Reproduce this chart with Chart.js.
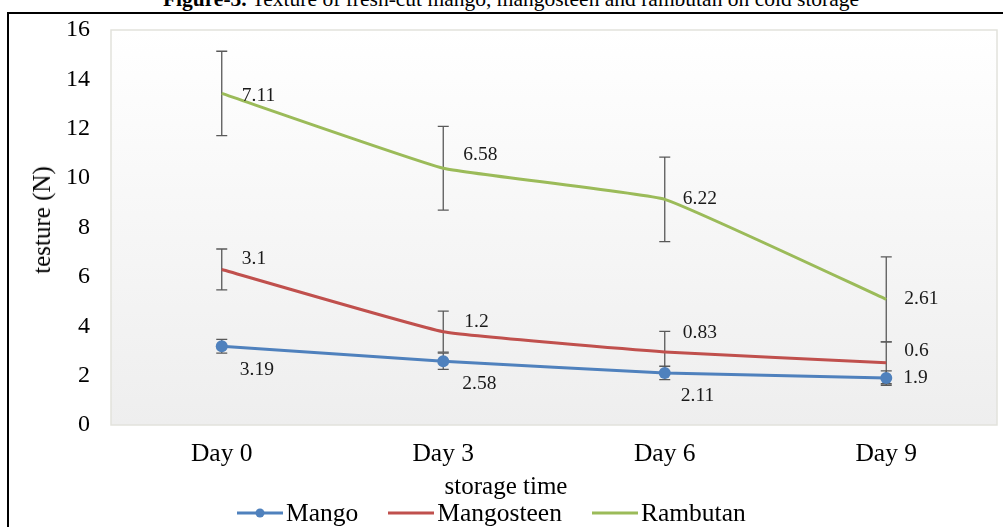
<!DOCTYPE html>
<html>
<head>
<meta charset="utf-8">
<script src="https://cdn.jsdelivr.net/npm/chart.js@4"></script>
<style>
    body { margin: 0; background: #fff; font-family: 'Liberation Serif', serif; }
    #page { position: relative; width: 1003px; height: 527px; overflow: hidden; }
    #figTitle { position: absolute; left: 0; width: 1022px; top: -11px; text-align: center; font-size: 21.5px; line-height: 20px; color: #000; white-space: nowrap; }
    #frame { position: absolute; left: 7px; top: 12px; width: 1010px; height: 530px; border-left: 2px solid #000; border-top: 2px solid #000; }
    #chartBox { position: absolute; left: 0; top: 0; width: 1003px; height: 527px; }
    .axisTitle { position: absolute; font-size: 25px; color: #000; white-space: nowrap; }
    #yTitle { left: 42px; top: 220px; transform: translate(-50%, -50%) rotate(-90deg); }
    #xTitle { left: 506px; top: 486px; transform: translate(-50%, -50%); }
    #legend { position: absolute; left: 237px; top: 513px; transform: translateY(-50%); display: flex; align-items: center; font-size: 25.5px; }
    #legend .item { display: flex; align-items: center; margin-right: 30px; }
    #legend svg { margin-right: 3px; }
</style>
</head>
<body>
<div id="page">
    <div id="figTitle"><b>Figure-3.</b> Texture of fresh-cut mango, mangosteen and rambutan on cold storage</div>
    <div id="frame"></div>
    <div id="chartBox"><canvas id="textureChart"></canvas></div>
    <div class="axisTitle" id="yTitle">testure (N)</div>
    <div class="axisTitle" id="xTitle">storage time</div>
    <div id="legend">
        <div class="item">
            <svg width="46" height="12"><line x1="0" y1="6" x2="46" y2="6" stroke="#4F81BD" stroke-width="3"/><circle cx="23" cy="6" r="4.5" fill="#4F81BD"/></svg>Mango
        </div>
        <div class="item">
            <svg width="46" height="12"><line x1="0" y1="6" x2="46" y2="6" stroke="#C0504D" stroke-width="3"/></svg>Mangosteen
        </div>
        <div class="item">
            <svg width="46" height="12"><line x1="0" y1="6" x2="46" y2="6" stroke="#9BBB59" stroke-width="3"/></svg>Rambutan
        </div>
    </div>
</div>

<script>
// Chart data
const days = ['Day 0', 'Day 3', 'Day 6', 'Day 9'];
const yTicks = [0, 2, 4, 6, 8, 10, 12, 14, 16];

const mango = [3.19, 2.58, 2.11, 1.9];
const mangosteen = [6.3, 3.78, 2.96, 2.52];
const rambutan = [13.43, 10.4, 9.14, 5.09];

// error bar half-heights
const mangoErr = [0.28, 0.33, 0.27, 0.29];
const mangosteenErr = [0.83, 0.83, 0.83, 0.85];
const rambutanErr = [1.71, 1.7, 1.71, 1.72];

// the numbers printed next to the points
const mangoLabels = ['3.19', '2.58', '2.11', '1.9'];
const mangosteenLabels = ['3.1', '1.2', '0.83', '0.6'];
const rambutanLabels = ['7.11', '6.58', '6.22', '2.61'];

// label offsets from each point (pixels)
const labelOffsets = [
    [[18, 24], [19, 23], [16, 23], [17, 0]],
    [[20, -11], [21, -10], [18, -19], [18, -12]],
    [[20, 2], [20, -13], [18, 0], [18, 0]]
];

// Plot area background and border
const plotBackground = {
    id: 'plotBackground',
    beforeDraw(chart) {
        const a = chart.chartArea;
        const ctx = chart.ctx;
        const grad = ctx.createLinearGradient(0, a.top, 0, a.bottom);
        grad.addColorStop(0, '#ffffff');
        grad.addColorStop(1, '#eeeeee');
        ctx.save();
        ctx.fillStyle = grad;
        ctx.fillRect(a.left, a.top, a.right - a.left, a.bottom - a.top);
        ctx.strokeStyle = '#e2e2dc';
        ctx.lineWidth = 1.5;
        ctx.strokeRect(a.left, a.top, a.right - a.left, a.bottom - a.top);
        ctx.restore();
    }
};

// Vertical error bars with caps
const errorBars = {
    id: 'errorBars',
    beforeDatasetsDraw(chart) {
        const ctx = chart.ctx;
        const yScale = chart.scales.y;
        ctx.save();
        ctx.strokeStyle = '#595959';
        ctx.lineWidth = 1.3;
        chart.data.datasets.forEach(function(ds, i) {
            const meta = chart.getDatasetMeta(i);
            meta.data.forEach(function(pt, j) {
                const v = ds.data[j];
                const e = ds.errors[j];
                const top = yScale.getPixelForValue(v + e);
                const bottom = yScale.getPixelForValue(v - e);
                ctx.beginPath();
                ctx.moveTo(pt.x, top);
                ctx.lineTo(pt.x, bottom);
                ctx.moveTo(pt.x - 5.5, top);
                ctx.lineTo(pt.x + 5.5, top);
                ctx.moveTo(pt.x - 5.5, bottom);
                ctx.lineTo(pt.x + 5.5, bottom);
                ctx.stroke();
            });
        });
        ctx.restore();
    }
};

// Text next to each point
const pointLabels = {
    id: 'pointLabels',
    afterDatasetsDraw(chart) {
        const ctx = chart.ctx;
        ctx.save();
        ctx.font = '19.5px "Liberation Serif"';
        ctx.fillStyle = '#1a1a1a';
        ctx.textAlign = 'left';
        ctx.textBaseline = 'middle';
        chart.data.datasets.forEach(function(ds, i) {
            const meta = chart.getDatasetMeta(i);
            meta.data.forEach(function(pt, j) {
                const off = labelOffsets[i][j];
                ctx.fillText(ds.labelsText[j], pt.x + off[0], pt.y + off[1]);
            });
        });
        ctx.restore();
    }
};

const ctx = document.getElementById('textureChart').getContext('2d');

new Chart(ctx, {
    type: 'line',
    data: {
        labels: days,
        datasets: [
            {
                label: 'Mango',
                data: mango,
                errors: mangoErr,
                labelsText: mangoLabels,
                borderColor: '#4F81BD',
                backgroundColor: '#4F81BD',
                borderWidth: 3,
                pointRadius: 6,
                pointBorderWidth: 0,
                tension: 0.1
            },
            {
                label: 'Mangosteen',
                data: mangosteen,
                errors: mangosteenErr,
                labelsText: mangosteenLabels,
                borderColor: '#C0504D',
                backgroundColor: '#C0504D',
                borderWidth: 3,
                pointRadius: 0,
                tension: 0.1
            },
            {
                label: 'Rambutan',
                data: rambutan,
                errors: rambutanErr,
                labelsText: rambutanLabels,
                borderColor: '#9BBB59',
                backgroundColor: '#9BBB59',
                borderWidth: 3,
                pointRadius: 0,
                tension: 0.1
            }
        ]
    },
    options: {
        responsive: true,
        maintainAspectRatio: false,
        animation: false,
        layout: {
            padding: { top: 30, right: 4, left: 0, bottom: 0 }
        },
        plugins: {
            legend: { display: false },
            tooltip: { enabled: false }
        },
        scales: {
            x: {
                offset: true,
                grid: { display: false, drawTicks: false },
                border: { display: false },
                ticks: {
                    padding: 14,
                    color: '#000',
                    font: { size: 25.5, family: 'Liberation Serif' }
                },
                afterFit: function(scale) { scale.height = 102; }
            },
            y: {
                min: 0,
                max: 16,
                afterBuildTicks: function(scale) {
                    scale.ticks = yTicks.map(function(v) { return { value: v }; });
                },
                grid: { display: false, drawTicks: false },
                border: { display: false },
                ticks: {
                    padding: 21,
                    color: '#000',
                    font: { size: 24, family: 'Liberation Serif' }
                },
                afterFit: function(scale) {
                    scale.width = 111;
                    // keep the "16" label from pushing the plot down
                    scale.paddingTop = 5;
                    scale.paddingBottom = 5;
                }
            }
        }
    },
    plugins: [plotBackground, errorBars, pointLabels]
});
</script>
</body>
</html>
